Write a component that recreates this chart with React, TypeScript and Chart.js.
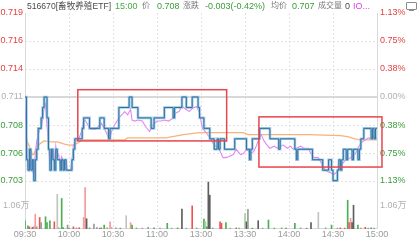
import React, { useEffect, useRef } from "react";
import { Chart, registerables } from "chart.js";

Chart.register(...registerables);

const FONT = '"Liberation Sans", "Noto Sans CJK SC", Arial, sans-serif';

// ---- data ----
const timeLabels = ["09:30", "10:00", "10:30", "11:00", "13:00", "13:30", "14:00", "14:30", "15:00"];
const preClose = 0.711;
const pctLevels = [-1.13, -0.754, -0.377, 0, 0.377, 0.754, 1.13];
const volTickValues = [1.06];
const volMax = 2.2;
const priceWeight = 3.5; // price panel : volume panel height
const volWeight = 1;

// [minute index, price from that minute on]
const priceSteps: [number, number][] = [
  [0, 0.711], [1, 0.705], [2, 0.704], [3, 0.706], [4, 0.704], [5, 0.705], [6, 0.703], [7, 0.705],
  [8, 0.706], [9, 0.708], [11, 0.709], [12, 0.71], [13, 0.711], [15, 0.709], [16, 0.706], [17, 0.704],
  [18, 0.706], [19, 0.705], [20, 0.704], [21, 0.706], [22, 0.705], [24, 0.704], [25, 0.705], [26, 0.704],
  [27, 0.705], [28, 0.704], [32, 0.705], [33, 0.706], [34, 0.707], [39, 0.708], [40, 0.709], [44, 0.708],
  [51, 0.709], [54, 0.708], [57, 0.707], [58, 0.708], [64, 0.71], [71, 0.711], [73, 0.71], [77, 0.709],
  [86, 0.708], [88, 0.709], [95, 0.71], [101, 0.709], [102, 0.71], [107, 0.711], [110, 0.71], [114, 0.711],
  [118, 0.71], [119, 0.709], [122, 0.708], [126, 0.707], [129, 0.706], [131, 0.707], [132, 0.706],
  [133, 0.707], [136, 0.706], [143, 0.707], [151, 0.706], [153, 0.705], [154, 0.706], [155, 0.707],
  [160, 0.708], [167, 0.707], [173, 0.706], [174, 0.707], [184, 0.706], [185, 0.705], [186, 0.706],
  [196, 0.705], [203, 0.704], [207, 0.705], [209, 0.704], [210, 0.703], [213, 0.704], [214, 0.705],
  [215, 0.704], [216, 0.705], [217, 0.706], [219, 0.705], [220, 0.706], [223, 0.705], [224, 0.706],
  [227, 0.705], [228, 0.706], [229, 0.707], [231, 0.708], [236, 0.707], [237, 0.708], [238, 0.707],
  [239, 0.708], [240, 0.708],
];

const iopvPoints: [number, number][] = [
  [0, 0.71], [2, 0.7045], [3, 0.704], [4, 0.7052], [5, 0.7039], [6, 0.7037], [7, 0.7055], [8, 0.7068],
  [10, 0.7079], [11, 0.708], [12, 0.7088], [13, 0.7099], [14, 0.7103], [15, 0.7083], [16, 0.7063],
  [17, 0.7047], [19, 0.7058], [20, 0.7047], [21, 0.7063], [22, 0.7052], [23, 0.7055], [24, 0.7045],
  [25, 0.7053], [27, 0.7044], [28, 0.7049], [29, 0.704], [31, 0.704], [32, 0.705], [33, 0.7064],
  [35, 0.7068], [37, 0.7071], [39, 0.7079], [40, 0.7087], [41, 0.7088], [43, 0.7083], [44, 0.708],
  [46, 0.7079], [48, 0.7079], [50, 0.7082], [52, 0.7085], [54, 0.708], [57, 0.7071], [58, 0.7071],
  [59, 0.7077], [61, 0.7083], [64, 0.709], [66, 0.7093], [68, 0.7096], [70, 0.7093], [72, 0.7098],
  [73, 0.7088], [75, 0.7087], [77, 0.7088], [80, 0.7087], [82, 0.7082], [85, 0.7077], [87, 0.7083],
  [90, 0.7087], [93, 0.7087], [95, 0.7088], [98, 0.7087], [101, 0.709], [103, 0.7095], [105, 0.7096],
  [107, 0.7101], [110, 0.7098], [112, 0.7096], [114, 0.7099], [117, 0.7101], [119, 0.7095], [120, 0.7087],
  [121, 0.708], [123, 0.7077], [126, 0.7071], [128, 0.7066], [130, 0.7063], [132, 0.7061], [135, 0.7052],
  [137, 0.7052], [139, 0.7053], [142, 0.7055], [144, 0.706], [147, 0.7055], [149, 0.7056], [151, 0.706],
  [154, 0.7056], [156, 0.7058], [158, 0.7064], [160, 0.7072], [161, 0.7074], [163, 0.7068], [165, 0.7064],
  [167, 0.7061], [170, 0.7063], [172, 0.7061], [174, 0.7063], [176, 0.7064], [179, 0.7061], [181, 0.7063],
  [183, 0.706], [185, 0.7061], [188, 0.7063], [190, 0.7061], [193, 0.7061], [195, 0.7056], [197, 0.7052],
  [200, 0.7052], [202, 0.7047], [204, 0.7042], [206, 0.7039], [209, 0.7037], [211, 0.7036], [213, 0.7039],
  [216, 0.7045], [218, 0.7049], [220, 0.705], [222, 0.7052], [225, 0.7055], [227, 0.7061], [229, 0.7066],
  [231, 0.7068], [234, 0.7071], [236, 0.707], [238, 0.7072], [240, 0.7071],
];

const avgPoints: [number, number][] = [
  [0, 0.7072], [3, 0.7063], [5, 0.7055], [6, 0.7055], [8, 0.7063], [11, 0.7066], [13, 0.7068],
  [18, 0.7067], [22, 0.7067], [27, 0.7065], [30, 0.7064], [33, 0.7064], [36, 0.7066], [39, 0.7069],
  [45, 0.7069], [68, 0.7069], [70, 0.7071], [96, 0.7071], [108, 0.7074], [119, 0.7076], [145, 0.7076],
  [149, 0.7076], [152, 0.7074], [193, 0.7074], [215, 0.7073], [220, 0.7072], [225, 0.707], [228, 0.7069],
  [240, 0.7069],
];

// [minute index, volume (万), colour key]
const volumeBars: [number, number, string][] = [
  [0, 0.38, "g"], [2, 0.14, "g"], [3, 0.1, "r"], [5, 0.08, "r"], [6, 0.1, "m"], [7, 0.68, "p"], [8, 0.1, "m"],
  [10, 0.53, "r"], [11, 0.29, "m"], [14, 0.56, "g"], [15, 0.29, "g"], [17, 0.38, "g"], [20, 0.33, "r"],
  [22, 1.59, "l"], [23, 0.05, "m"], [25, 1.4, "g"], [26, 0.06, "g"], [29, 0.18, "m"], [30, 0.04, "g"],
  [33, 0.1, "r"], [35, 0.05, "m"], [37, 0.06, "r"], [40, 0.53, "p"], [41, 1.9, "p"], [42, 0.47, "k"],
  [44, 0.05, "g"], [47, 0.23, "m"], [49, 0.06, "m"], [51, 0.04, "r"], [52, 0.05, "g"], [54, 0.18, "g"],
  [56, 0.05, "m"], [58, 0.33, "p"], [59, 0.08, "p"], [62, 0.05, "m"], [65, 0.04, "g"], [69, 0.61, "l"],
  [72, 0.29, "p"], [73, 0.18, "g"], [76, 0.05, "m"], [80, 0.04, "m"], [84, 0.08, "m"], [88, 0.05, "g"],
  [92, 0.04, "m"], [97, 0.26, "g"], [100, 0.04, "m"], [104, 0.05, "g"], [107, 0.91, "k"], [110, 0.04, "m"],
  [114, 1.06, "r"], [117, 0.05, "m"], [122, 0.45, "g"], [123, 0.33, "lg"], [124, 0.1, "g"], [125, 2.15, "k"],
  [126, 1.55, "k"], [128, 0.05, "m"], [133, 0.33, "r"], [134, 0.26, "r"], [137, 0.29, "g"], [140, 0.04, "m"],
  [144, 0.05, "g"], [146, 0.04, "m"], [150, 0.71, "lg"], [151, 0.33, "k"], [152, 0.9, "m"], [155, 0.04, "g"],
  [159, 0.38, "k"], [162, 0.04, "m"], [166, 0.41, "g"], [170, 0.04, "g"], [175, 0.05, "m"], [178, 0.04, "g"],
  [184, 0.26, "g"], [188, 0.05, "m"], [192, 0.04, "g"], [195, 0.29, "k"], [200, 0.76, "l"], [205, 0.05, "m"],
  [209, 0.18, "g"], [213, 0.04, "m"], [215, 0.05, "r"], [218, 0.04, "r"], [220, 1.32, "g"], [221, 0.29, "r"],
  [222, 0.49, "p"], [223, 0.29, "k"], [224, 1.09, "k"], [227, 0.18, "g"], [229, 0.04, "m"], [232, 0.08, "r"],
  [234, 0.04, "m"], [236, 0.05, "g"], [238, 0.04, "m"],
];

// annotation boxes: minute range and price range
const boxFrom = [36, 159.5];
const boxTo = [137.5, 243.4];
const boxHigh = [0.7117, 0.7091];
const boxLow = [0.7068, 0.7043];

const barColors: Record<string, string> = {
  g: "#4caf50", lg: "#9fd49f", r: "#ef5350", p: "#f49a9a", k: "#5e5e5e", m: "#9a9a9a", l: "#c2c2c2",
};

const RED = "#e53e3e";
const GREEN = "#3a9c3a";
const GRAY = "#b0b0b0";

const priceTicks = pctLevels.map((p) => preClose * (1 + p / 100));
const priceSpan = priceTicks[6] - priceTicks[0];
const pctSpan = pctLevels[6] - pctLevels[0];

const tickFont = { family: FONT, size: 9 };

const gridPlugin = {
  id: "gridPlugin",
  beforeDatasetsDraw(chart: any) {
    const { ctx, chartArea: a, scales } = chart;
    const x = scales.x;
    const yP = scales.yP;
    ctx.save();
    ctx.lineWidth = 1;
    ctx.strokeStyle = "#e2e2e2";
    ctx.setLineDash([2, 2]);
    for (let k = 1; k < timeLabels.length - 1; k++) {
      const px = Math.round(x.getPixelForValue(k * 30)) + 0.5;
      ctx.beginPath();
      ctx.moveTo(px, a.top);
      ctx.lineTo(px, a.bottom);
      ctx.stroke();
    }
    priceTicks.forEach((v, k) => {
      if (k === 3 || k === 6) return;
      const py = Math.round(yP.getPixelForValue(v)) + 0.5;
      ctx.beginPath();
      ctx.moveTo(a.left, py);
      ctx.lineTo(a.right, py);
      ctx.stroke();
    });
    ctx.setLineDash([]);
    ctx.strokeStyle = "#d8d8d8";
    ctx.lineWidth = 2;
    const pc = Math.round(yP.getPixelForValue(preClose));
    ctx.beginPath();
    ctx.moveTo(a.left, pc);
    ctx.lineTo(a.right, pc);
    ctx.stroke();
    ctx.lineWidth = 1;
    ctx.strokeStyle = "#d9d9d9";
    ctx.beginPath();
    ctx.moveTo(Math.round(a.left) + 0.5, a.top);
    ctx.lineTo(Math.round(a.left) + 0.5, a.bottom);
    ctx.moveTo(Math.round(a.right) + 0.5, a.top);
    ctx.lineTo(Math.round(a.right) + 0.5, a.bottom);
    ctx.moveTo(a.left, Math.round(a.bottom) - 0.5);
    ctx.lineTo(a.right, Math.round(a.bottom) - 0.5);
    ctx.stroke();
    // volume axis labels
    const yV = scales.yV;
    ctx.font = `9px ${FONT}`;
    ctx.fillStyle = GRAY;
    ctx.textBaseline = "middle";
    volTickValues.forEach((v) => {
      const py = yV.getPixelForValue(v);
      const label = v.toFixed(2) + "万";
      ctx.textAlign = "left";
      ctx.fillText(label, 3, py);
      ctx.fillText(label, a.right + 3, py);
    });
    ctx.restore();
  },
};

const boxPlugin = {
  id: "boxPlugin",
  afterDatasetsDraw(chart: any) {
    const { ctx, scales } = chart;
    const x = scales.x;
    const yP = scales.yP;
    ctx.save();
    ctx.strokeStyle = "#e8454d";
    ctx.lineWidth = 1.5;
    for (let k = 0; k < boxFrom.length; k++) {
      const x0 = x.getPixelForValue(boxFrom[k]);
      const x1 = x.getPixelForValue(boxTo[k]);
      const y0 = yP.getPixelForValue(boxHigh[k]);
      const y1 = yP.getPixelForValue(boxLow[k]);
      ctx.strokeRect(x0, y0, x1 - x0, y1 - y0);
    }
    ctx.restore();
  },
};

function priceColor(i: number) {
  if (i < 3) return GREEN;
  if (i === 3) return GRAY;
  return RED;
}

function IntradayChart() {
  const ref = useRef<HTMLCanvasElement | null>(null);
  useEffect(() => {
    if (!ref.current) return;
    const chart = new Chart(ref.current, {
      type: "line",
      data: {
        datasets: [
          {
            data: priceSteps.map(([x, y]) => ({ x, y })),
            borderColor: "#2f6e9d",
            borderWidth: 1,
            stepped: true,
            pointRadius: 0,
            xAxisID: "x",
            yAxisID: "yP",
            order: 0,
          },
          {
            data: priceSteps.map(([x, y]) => ({ x, y })),
            borderColor: "rgba(138,190,222,0.8)",
            borderWidth: 2.6,
            stepped: true,
            pointRadius: 0,
            xAxisID: "x",
            yAxisID: "yP",
            order: 1,
          },
          {
            data: iopvPoints.map(([x, y]) => ({ x, y })),
            borderColor: "#e388f3",
            borderWidth: 1.1,
            pointRadius: 0,
            tension: 0,
            xAxisID: "x",
            yAxisID: "yP",
            order: 2,
          },
          {
            data: avgPoints.map(([x, y]) => ({ x, y })),
            borderColor: "#f7b37c",
            borderWidth: 1.3,
            pointRadius: 0,
            tension: 0,
            xAxisID: "x",
            yAxisID: "yP",
            order: 3,
          },
          {
            type: "bar",
            data: volumeBars.map(([x, v]) => ({ x, y: v })),
            backgroundColor: volumeBars.map((b) => barColors[b[2]]),
            barThickness: 1,
            grouped: false,
            xAxisID: "x",
            yAxisID: "yV",
            order: 4,
          } as any,
        ],
      },
      options: {
        responsive: false,
        animation: false,
        events: [],
        layout: { padding: { top: 13, left: 0, right: 0, bottom: 0 } },
        plugins: { legend: { display: false }, tooltip: { enabled: false } },
        scales: {
          x: {
            type: "linear",
            position: "bottom",
            offset: false,
            min: 0,
            max: 240,
            grid: { display: false, drawTicks: false, offset: false },
            border: { display: false },
            afterBuildTicks: (s: any) => {
              s.ticks = timeLabels.map((_, k) => ({ value: k * 30 }));
            },
            afterFit: (s: any) => {
              s.height = 13;
            },
            ticks: {
              autoSkip: false,
              maxRotation: 0,
              padding: 0,
              color: "#9a9a9a",
              font: tickFont,
              callback: (v: any) => timeLabels[Math.round(Number(v) / 30)],
            },
          },
          yP: {
            type: "linear",
            position: "left",
            min: priceTicks[0] - (priceSpan * volWeight) / priceWeight,
            max: priceTicks[6],
            grid: { display: false, drawTicks: false },
            border: { display: false },
            afterBuildTicks: (s: any) => {
              s.ticks = priceTicks.map((v) => ({ value: v }));
            },
            afterFit: (s: any) => {
              s.width = 25;
            },
            ticks: {
              autoSkip: false,
              padding: 2,
              font: tickFont,
              color: (c: any) => priceColor(c.index),
              callback: (v: any) => Number(v).toFixed(3),
            },
          },
          yPR: {
            type: "linear",
            position: "right",
            min: pctLevels[0] - (pctSpan * volWeight) / priceWeight,
            max: pctLevels[6],
            grid: { display: false, drawTicks: false },
            border: { display: false },
            afterBuildTicks: (s: any) => {
              s.ticks = pctLevels.map((v) => ({ value: v }));
            },
            afterFit: (s: any) => {
              s.width = 41;
            },
            ticks: {
              autoSkip: false,
              padding: 3,
              font: tickFont,
              color: (c: any) => priceColor(c.index),
              callback: (v: any) => Math.abs(Number(v)).toFixed(2) + "%",
            },
          },
          yV: {
            type: "linear",
            position: "left",
            display: false,
            min: 0,
            max: (volMax * (priceWeight + volWeight)) / volWeight,
          },
        },
      } as any,
      plugins: [gridPlugin, boxPlugin],
    });
    return () => chart.destroy();
  }, []);
  return <canvas ref={ref} width={418} height={242} style={{ display: "block" }} />;
}

const headerItems: [string, number, string, number][] = [
  ["516670[畜牧养殖ETF]", 27, "#4a4a4a", 8.6],
  ["15:00", 115, "#46a846", 9],
  ["价", 142, "#7a7a7a", 8],
  ["0.708", 157, GREEN, 9],
  ["涨跌", 183, "#7a7a7a", 8],
  ["-0.003(-0.42%)", 205, GREEN, 9],
  ["均价", 271, "#7a7a7a", 8],
  ["0.707", 292, GREEN, 9],
  ["成交量", 318, "#7a7a7a", 8],
  ["0", 345, "#4a4a4a", 9],
  ["IO...", 353, "#e040e8", 9],
];

export default function App() {
  return (
    <div style={{ position: "absolute", left: 0, top: 0, width: 418, height: 242, background: "#fff", overflow: "hidden" }}>
      <IntradayChart />
      {headerItems.map(([t, left, color, size]) => (
        <span
          key={t + left}
          style={{
            position: "absolute",
            left,
            top: 0,
            fontFamily: FONT,
            fontSize: size,
            lineHeight: "12px",
            color,
            whiteSpace: "nowrap",
          }}
        >
          {t}
        </span>
      ))}
      <div style={{ position: "absolute", left: 406, top: 2, width: 9, height: 6, border: "1px solid #8c8c8c", borderRadius: 1 }} />
      <div style={{ position: "absolute", left: 409, top: 10, width: 5, height: 1, background: "#8c8c8c" }} />
    </div>
  );
}
